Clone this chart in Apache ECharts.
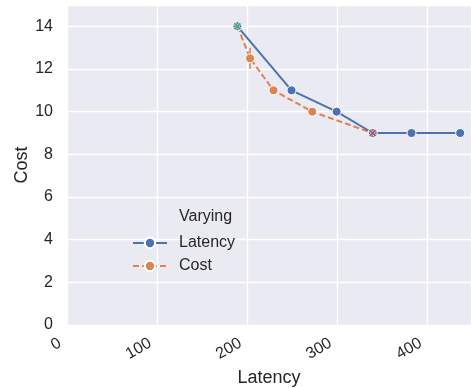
<!DOCTYPE html>
<html>
<head>
<meta charset="utf-8">
<script src="https://cdn.jsdelivr.net/npm/echarts@6/dist/echarts.min.js"></script>
<style>html,body{margin:0;padding:0;background:#fff}#c{width:471px;height:388px}</style>
</head>
<body>
<div id="c"></div>
<script>
// Data
const latencyX = [189, 249, 299, 339, 382, 436];
const latencyCost = [14, 11, 10, 9, 9, 9];
const costX = [189, 203, 229, 272, 339];
const costCost = [14, 12.5, 11, 10, 9];
const errX = [203, 203];
const errCost = [12, 13];
const startPoint = [189, 14];
const endPoint = [339, 9];
const yTicks = [0, 2, 4, 6, 8, 10, 12, 14];
const xTicks = [0, 100, 200, 300, 400];
const legendTitle = 'Varying';
const seriesNames = ['Latency', 'Cost'];

const zip = (a, b) => a.map((v, i) => [v, b[i]]);
const TXT = '#262626';
const FONT = 'Liberation Sans, Arial, sans-serif';
const cross = 'path://M2,0 L5,3 L8,0 L10,2 L7,5 L10,8 L8,10 L5,7 L2,10 L0,8 L3,5 L0,2 Z';

const chart = echarts.init(document.getElementById('c'), null, {renderer: 'canvas'});
chart.setOption({
  animation: false,
  textStyle: {fontFamily: FONT, color: TXT},
  grid: {left: 67, right: 0, top: 5, bottom: 63, show: true, backgroundColor: '#EAEAF2', borderWidth: 0,
    containLabel: false, outerBoundsMode: 'none'},
  xAxis: {
    type: 'value', min: 0, max: 448, interval: 100,
    name: 'Latency', nameLocation: 'middle', nameGap: 44, nameMoveOverlap: false,
    nameTextStyle: {fontSize: 18, color: TXT, fontFamily: FONT},
    axisLine: {show: false}, axisTick: {show: false},
    axisLabel: {rotate: 30, fontSize: 16, color: TXT, fontFamily: FONT, margin: 13, showMaxLabel: false,
      padding: [0, 8, 0, 0],
      formatter: v => xTicks.includes(v) ? String(v) : ''},
    splitLine: {show: true, lineStyle: {color: '#fff', width: 1.3}}
  },
  yAxis: {
    type: 'value', min: 0, max: 15, interval: 2,
    name: 'Cost', nameLocation: 'middle', nameGap: 36, nameMoveOverlap: false,
    nameTextStyle: {fontSize: 18, color: TXT, fontFamily: FONT},
    axisLine: {show: false}, axisTick: {show: false},
    axisLabel: {fontSize: 16, color: TXT, fontFamily: FONT, margin: 14, showMaxLabel: false,
      formatter: v => yTicks.includes(v) ? String(v) : ''},
    splitLine: {show: true, lineStyle: {color: '#fff', width: 1.3}}
  },
  legend: {
    data: seriesNames, orient: 'vertical', left: 127, top: 230,
    itemWidth: 34, itemHeight: 13, itemGap: 7,
    textStyle: {fontSize: 16, color: TXT, fontFamily: FONT, padding: [0, 0, 0, 7]}
  },
  graphic: [{type: 'text', left: 179, top: 209, style: {text: legendTitle, fontSize: 16, fill: TXT, fontFamily: FONT}}],
  series: [
    {
      name: 'Latency', type: 'line', data: zip(latencyX, latencyCost), z: 3,
      symbol: 'circle', symbolSize: 9,
      lineStyle: {color: '#4C72B0', width: 2},
      itemStyle: {color: '#4C72B0', borderColor: '#fff', borderWidth: 1}
    },
    {
      name: 'Cost', type: 'line', data: zip(costX, costCost), z: 2,
      symbol: 'circle', symbolSize: 9,
      lineStyle: {color: '#DD8452', width: 2, type: [6, 3]},
      itemStyle: {color: '#DD8452', borderColor: '#fff', borderWidth: 1}
    },
    {
      name: 'err', type: 'line', data: zip(errX, errCost), z: 1, symbol: 'none',
      lineStyle: {color: '#C8875A', width: 1.5}, silent: true
    },
    {
      name: 'start', type: 'scatter', data: [startPoint], z: 5, symbol: cross, symbolSize: 8,
      itemStyle: {color: '#55A868', borderColor: '#fff', borderWidth: 0.8}
    },
    {
      name: 'end', type: 'scatter', data: [endPoint], z: 5, symbol: cross, symbolSize: 8,
      itemStyle: {color: '#C44E52', borderColor: '#fff', borderWidth: 0.8}
    }
  ]
});
</script>
</body>
</html>
